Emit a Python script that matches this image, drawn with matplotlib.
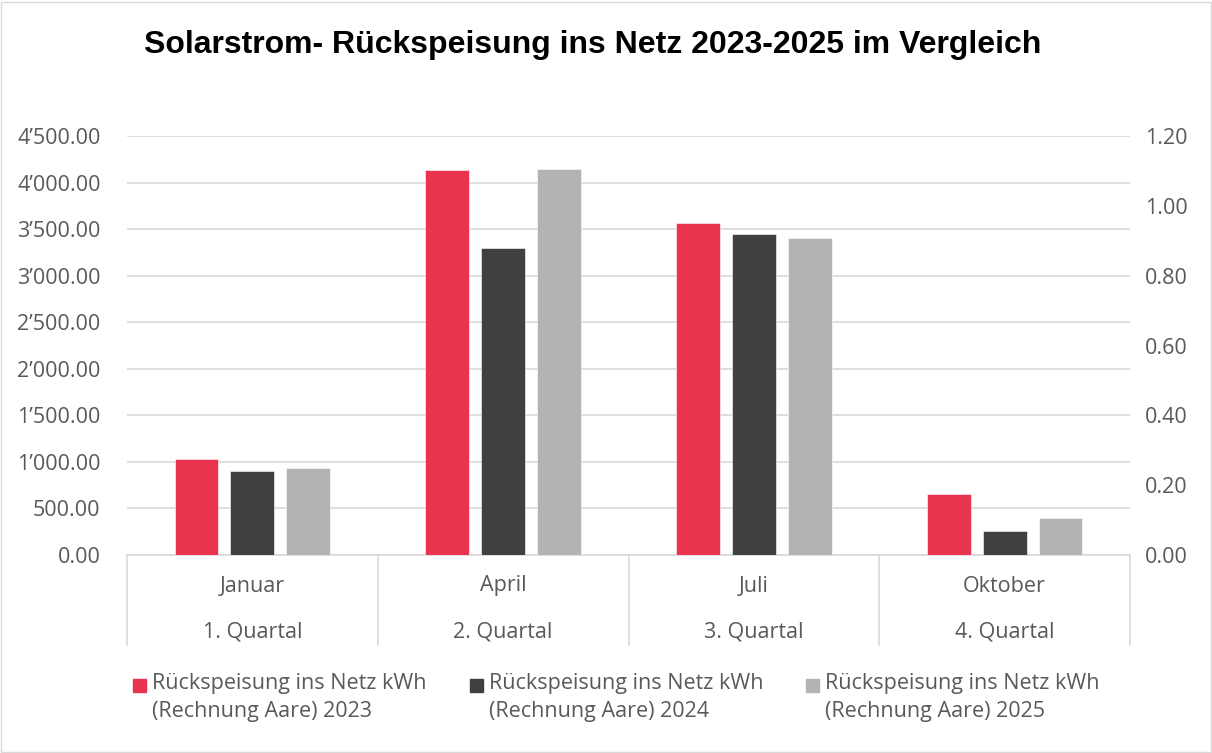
import matplotlib.pyplot as plt
import matplotlib.patches as patches
import matplotlib.transforms as mtransforms
from matplotlib.ticker import FuncFormatter, MultipleLocator
import numpy as np

# data
months = ['Januar', 'April', 'Juli', 'Oktober']
quarters = ['1. Quartal', '2. Quartal', '3. Quartal', '4. Quartal']
series_names = [
    'Rückspeisung ins Netz kWh\n(Rechnung Aare) 2023',
    'Rückspeisung ins Netz kWh\n(Rechnung Aare) 2024',
    'Rückspeisung ins Netz kWh\n(Rechnung Aare) 2025',
]
values_2023 = [1026, 4133, 3564, 650]
values_2024 = [900, 3300, 3446, 256]
values_2025 = [937, 4141, 3407, 395]
colors = ['#E8344E', '#404040', '#B3B3B3']

font = 'Open Sans'
txt_color = '#595959'
grid_color = '#D9D9D9'
fs = 15.5

W, H = 1212, 753
fig = plt.figure(figsize=(12.12, 7.53), dpi=100)
ax = fig.add_axes([127 / W, 1 - 555 / H, (1130 - 127) / W, (555 - 136) / H])

# outer border of the chart area
fig.patches.append(patches.Rectangle((0.001, 0.001), 0.998, 0.997, transform=fig.transFigure,
                                     fill=False, edgecolor='#D9D9D9', linewidth=1))

x = np.arange(len(months))
width = 0.175
step = 0.223
for i, vals in enumerate([values_2023, values_2024, values_2025]):
    ax.bar(x + (i - 1) * step, vals, width, color=colors[i], label=series_names[i],
           zorder=3, edgecolor='white', linewidth=0.4)

ax.set_xlim(-0.5, len(months) - 0.5)
ax.set_ylim(0, 4500)
ax.yaxis.set_major_locator(MultipleLocator(500))
ax.yaxis.set_major_formatter(FuncFormatter(lambda v, p: f'{v:,.2f}'.replace(',', '\u2019')))
ax.grid(axis='y', color=grid_color, linewidth=1.2, zorder=0)
ax.tick_params(axis='y', length=0, pad=19, labelsize=fs, labelcolor=txt_color)
for lab in ax.get_yticklabels():
    lab.set_family(font)
for s in ['top', 'right', 'left']:
    ax.spines[s].set_visible(False)
ax.spines['bottom'].set_color(grid_color)
ax.spines['bottom'].set_linewidth(1.2)

# secondary axis (empty)
ax2 = ax.twinx()
ax2.set_ylim(0, 1.2)
ax2.yaxis.set_major_locator(MultipleLocator(0.2))
ax2.yaxis.set_major_formatter(FuncFormatter(lambda v, p: f'{v:.2f}'))
ax2.tick_params(axis='y', length=0, pad=11, labelsize=fs, labelcolor=txt_color)
for lab in ax2.get_yticklabels():
    lab.set_family(font)
for s in ax2.spines.values():
    s.set_visible(False)

# multi-level category axis
ax.set_xticks([])
trans = mtransforms.blended_transform_factory(ax.transData, ax.transAxes)
sep_depth = (645 - 555) / 419
for b in np.arange(-0.5, len(months), 1.0):
    ax.plot([b, b], [0, -sep_depth], transform=trans, color=grid_color, linewidth=1.2, clip_on=False)
for i in range(len(months)):
    ax.text(x[i], -(586 - 555) / 419, months[i], transform=trans, ha='center', va='center',
            fontsize=fs, color=txt_color, family=font)
    ax.text(x[i], -(632 - 555) / 419, quarters[i], transform=trans, ha='center', va='center',
            fontsize=fs, color=txt_color, family=font)

fig.text(0.489, 1 - 45 / H, 'Solarstrom- Rückspeisung ins Netz 2023-2025 im Vergleich',
         ha='center', va='center', fontsize=23, fontweight='bold', family='Liberation Sans')

# legend drawn by hand: marker beside first text line
leg_x = [133, 470, 806]
for i in range(3):
    fig.patches.append(patches.Rectangle((leg_x[i] / W, 1 - 692 / H), 13 / W, 13 / H,
                                         transform=fig.transFigure, color=colors[i]))
    fig.text((leg_x[i] + 19) / W, 1 - 673 / H, series_names[i], ha='left', va='top',
             fontsize=fs, color=txt_color, family=font, linespacing=1.45)

fig.savefig('out.png', dpi=100)
